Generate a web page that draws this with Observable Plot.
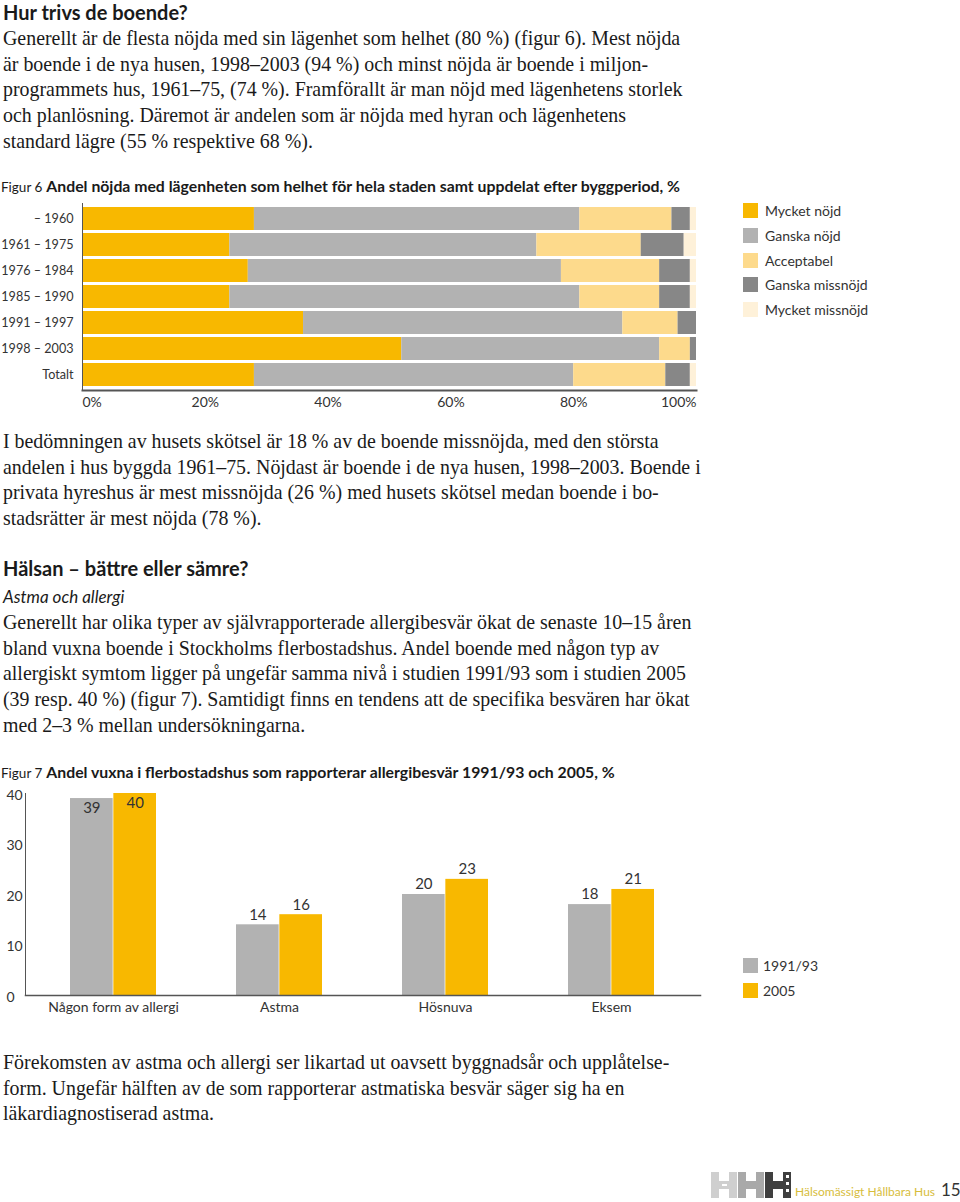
<!DOCTYPE html>
<html><head><meta charset="utf-8">
<script src="https://cdn.jsdelivr.net/npm/d3@7"></script>
<script src="https://cdn.jsdelivr.net/npm/@observablehq/plot@0.6"></script>
<style>
html,body{margin:0;padding:0;background:#fff;}
#page{position:relative;width:960px;height:1202px;overflow:hidden;color:#1a1a1a;}
.ln{position:absolute;left:3px;white-space:nowrap;font-family:"Liberation Serif","Times New Roman",serif;font-size:19.9px;line-height:25.6px;}
.h{position:absolute;left:3px;white-space:nowrap;font-family:Lato,"Open Sans",sans-serif;font-weight:700;font-size:20px;line-height:24px;}
.it{position:absolute;left:3px;white-space:nowrap;font-family:Lato,sans-serif;font-style:italic;font-size:17px;line-height:20px;}
.ft{position:absolute;left:1px;white-space:nowrap;font-family:Lato,sans-serif;font-size:15.8px;line-height:20px;}
.ft .s{font-size:13.5px;}
.ft b{font-weight:700;}
.chart{position:absolute;left:0;}
.leg{position:absolute;font-family:Lato,sans-serif;font-size:14px;color:#333;}
.leg .r{position:absolute;left:0;white-space:nowrap;height:16px;}
.leg .sw{position:absolute;left:0;top:0;width:15px;height:15px;}
.leg .t{position:absolute;left:22px;top:-1px;line-height:17px;}
</style></head>
<body><div id="page"></div>
<script>
// ---------- Figure 6 data ----------
const periods = ["– 1960", "1961 – 1975", "1976 – 1984", "1985 – 1990", "1991 – 1997", "1998 – 2003", "Totalt"];
const categories6 = ["Mycket nöjd", "Ganska nöjd", "Acceptabel", "Ganska missnöjd", "Mycket missnöjd"];
const mycketNojd     = [28, 24, 27, 24, 36, 52, 28];
const ganskaNojd     = [53, 50, 51, 57, 52, 42, 52];
const acceptabel     = [15, 17, 16, 13,  9,  5, 15];
const ganskaMissnojd = [ 3,  7,  5,  5,  3,  1,  4];
const mycketMissnojd = [ 1,  2,  1,  1,  0,  0,  1];
const colors6 = ["#F8B800", "#B2B2B2", "#FDDA8C", "#878787", "#FEF1D9"];
const xTicks6 = [0, 20, 40, 60, 80, 100];

// ---------- Figure 7 data ----------
const allergyTypes = ["Någon form av allergi", "Astma", "Hösnuva", "Eksem"];
const surveys = ["1991/93", "2005"];
const v1991 = [39, 14, 20, 18];
const v2005 = [40, 16, 23, 21];
const colors7 = ["#B2B2B2", "#F8B800"];
const yTicks7 = [0, 10, 20, 30, 40];

const page = document.getElementById("page");
function add(html){ const d=document.createElement("div"); d.innerHTML=html; const el=d.firstElementChild; page.appendChild(el); return el; }
function lines(arr, firstCenter){ arr.forEach((t,i)=>add(`<div class="ln" style="top:${firstCenter-12.8+i*25.6}px">${t}</div>`)); }

add(`<div class="h" style="top:0px">Hur trivs de boende?</div>`);
lines([
 "Generellt är de flesta nöjda med sin lägenhet som helhet (80 %) (figur 6). Mest nöjda",
 "är boende i de nya husen, 1998–2003 (94 %) och minst nöjda är boende i miljon-",
 "programmets hus, 1961–75, (74 %). Framförallt är man nöjd med lägenhetens storlek",
 "och planlösning. Däremot är andelen som är nöjda med hyran och lägenhetens",
 "standard lägre (55 % respektive 68 %)."
], 39);
add(`<div class="ft" style="top:176px"><span class="s">Figur 6</span> <b>Andel nöjda med lägenheten som helhet för hela staden samt uppdelat efter byggperiod, %</b></div>`);

// chart 6
const table6 = [];
const series6 = [mycketNojd, ganskaNojd, acceptabel, ganskaMissnojd, mycketMissnojd];
periods.forEach((p,i)=>categories6.forEach((c,j)=>table6.push({period:p, category:c, value:series6[j][i]})));
const c6 = Plot.plot({
  width: 700, height: 220, marginTop: 8, marginBottom: 25, marginLeft: 82, marginRight: 4,
  style: {fontFamily: "Lato, sans-serif", fontSize: "14px", color: "#333", background: "transparent"},
  x: {domain: [0, 100]},
  y: {domain: periods, paddingInner: 0.1, paddingOuter: 0.05},
  color: {domain: categories6, range: colors6},
  marks: [
    Plot.barX(table6, Plot.stackX({x: "value", y: "period", fill: "category", order: categories6})),
    Plot.axisY({tickSize: 0, tickPadding: 9, fontSize: 12.6, label: null}),
    Plot.axisX({ticks: [xTicks6[0]], tickFormat: d => d + "%", tickSize: 0, tickPadding: 7, textAnchor: "start", label: null}),
    Plot.axisX({ticks: xTicks6.slice(1, -1), tickFormat: d => d + "%", tickSize: 0, tickPadding: 7, label: null}),
    Plot.axisX({ticks: [xTicks6[xTicks6.length-1]], tickFormat: d => d + "%", tickSize: 0, tickPadding: 7, textAnchor: "end", label: null}),
    Plot.frame({anchor: "bottom", stroke: "#555", strokeWidth: 2}),
    Plot.frame({anchor: "left", stroke: "#555", strokeWidth: 1})
  ]
});
const w6 = add(`<div class="chart" style="top:195px"></div>`); w6.appendChild(c6);
const leg6 = add(`<div class="leg" style="left:743px;top:203px"></div>`);
categories6.forEach((c,i)=>{ const r=document.createElement("div"); r.className="r"; r.style.top=(i*24.8)+"px";
  r.innerHTML=`<div class="sw" style="background:${colors6[i]}"></div><div class="t">${c}</div>`; leg6.appendChild(r); });

lines([
 "I bedömningen av husets skötsel är 18 % av de boende missnöjda, med den största",
 "andelen i hus byggda 1961–75. Nöjdast är boende i de nya husen, 1998–2003. Boende i",
 "privata hyreshus är mest missnöjda (26 %) med husets skötsel medan boende i bo-",
 "stadsrätter är mest nöjda (78 %)."
], 442);
add(`<div class="h" style="top:556px">Hälsan – bättre eller sämre?</div>`);
add(`<div class="it" style="top:587px">Astma och allergi</div>`);
lines([
 "Generellt har olika typer av självrapporterade allergibesvär ökat de senaste 10–15 åren",
 "bland vuxna boende i Stockholms flerbostadshus. Andel boende med någon typ av",
 "allergiskt symtom ligger på ungefär samma nivå i studien 1991/93 som i studien 2005",
 "(39 resp. 40 %) (figur 7). Samtidigt finns en tendens att de specifika besvären har ökat",
 "med 2–3 % mellan undersökningarna."
], 623);
add(`<div class="ft" style="top:762px"><span class="s">Figur 7</span> <b>Andel vuxna i flerbostadshus som rapporterar allergibesvär 1991/93 och 2005, %</b></div>`);

// chart 7
const W7 = 720, ML7 = 25, MR7 = 20, PI7 = 0.479, PO7 = 0.268;
const step7 = (W7 - ML7 - MR7) / (allergyTypes.length - PI7 + 2 * PO7);
const half7 = step7 * (1 - PI7) / 2;
const table7 = [];
allergyTypes.forEach((a,i)=>{ table7.push({type:a, survey:surveys[0], value:v1991[i]}); table7.push({type:a, survey:surveys[1], value:v2005[i]}); });
const t1991 = table7.filter(d=>d.survey===surveys[0]);
const t2005 = table7.filter(d=>d.survey===surveys[1]);
const yMax7 = 40;
const inside = d => d.value >= yMax7 - 3;
const c7 = Plot.plot({
  width: W7, height: 240, marginTop: 8, marginBottom: 30, marginLeft: ML7, marginRight: MR7,
  style: {fontFamily: "Lato, sans-serif", fontSize: "14px", color: "#333", background: "transparent"},
  x: {domain: allergyTypes, paddingInner: PI7, paddingOuter: PO7},
  y: {domain: [0, yMax7]},
  color: {domain: surveys, range: colors7},
  marks: [
    Plot.barY(t1991, {x: "type", y: "value", fill: "survey", insetRight: half7}),
    Plot.barY(t2005, {x: "type", y: "value", fill: "survey", insetLeft: half7}),
    Plot.text(t1991.filter(d=>!inside(d)), {x: "type", y: "value", text: "value", dx: -half7/2, dy: -10, fontSize: 15, fill: "#333"}),
    Plot.text(t2005.filter(d=>!inside(d)), {x: "type", y: "value", text: "value", dx: half7/2, dy: -10, fontSize: 15, fill: "#333"}),
    Plot.text(t1991.filter(inside), {x: "type", y: "value", text: "value", dx: -half7/2, dy: 10, fontSize: 15, fill: "#333"}),
    Plot.text(t2005.filter(inside), {x: "type", y: "value", text: "value", dx: half7/2, dy: 10, fontSize: 15, fill: "#333"}),
    Plot.axisY({ticks: yTicks7, tickSize: 0, tickPadding: 19, textAnchor: "start", dy: 2, label: null}),
    Plot.axisX({tickSize: 0, tickPadding: 7, label: null}),
    Plot.frame({anchor: "bottom", stroke: "#555", strokeWidth: 1.5}),
    Plot.frame({anchor: "left", stroke: "#555", strokeWidth: 1})
  ]
});
const w7 = add(`<div class="chart" style="top:785px"></div>`); w7.appendChild(c7);
const leg7 = add(`<div class="leg" style="left:743px;top:958px"></div>`);
surveys.forEach((s,i)=>{ const r=document.createElement("div"); r.className="r"; r.style.top=(i*25)+"px";
  r.innerHTML=`<div class="sw" style="background:${colors7[i]}"></div><div class="t" style="left:20px">${s}</div>`; leg7.appendChild(r); });

lines([
 "Förekomsten av astma och allergi ser likartad ut oavsett byggnadsår och upplåtelse-",
 "form. Ungefär hälften av de som rapporterar astmatiska besvär säger sig ha en",
 "läkardiagnostiserad astma."
], 1063);

// footer
add(`<svg style="position:absolute;left:711px;top:1172px" width="80" height="27">
 <g fill="#cfcfcf"><rect x="0" y="0" width="8" height="26"/><rect x="18" y="0" width="8" height="26"/><rect x="8" y="9" width="10" height="8"/></g>
 <g fill="#a9a9a9"><rect x="27" y="0" width="8" height="26"/><rect x="45" y="0" width="8" height="26"/><rect x="35" y="9" width="10" height="8"/></g>
 <g fill="#3f3f3f"><rect x="54" y="0" width="8" height="26"/><rect x="72" y="0" width="8" height="26"/><rect x="62" y="9" width="10" height="8"/></g>
 <g fill="#fff"><rect x="75" y="3" width="3" height="3"/><rect x="75" y="10" width="3" height="3"/><rect x="75" y="17" width="3" height="3"/><rect x="11" y="12" width="5" height="2"/></g>
</svg>`);
add(`<div style="position:absolute;left:795px;top:1184px;font-family:Lato,sans-serif;font-size:12px;color:#d7bd3c;white-space:nowrap">Hälsomässigt Hållbara Hus</div>`);
add(`<div style="position:absolute;left:941px;top:1179px;font-family:Lato,sans-serif;font-size:17px;color:#333">15</div>`);
</script>
</body></html>
